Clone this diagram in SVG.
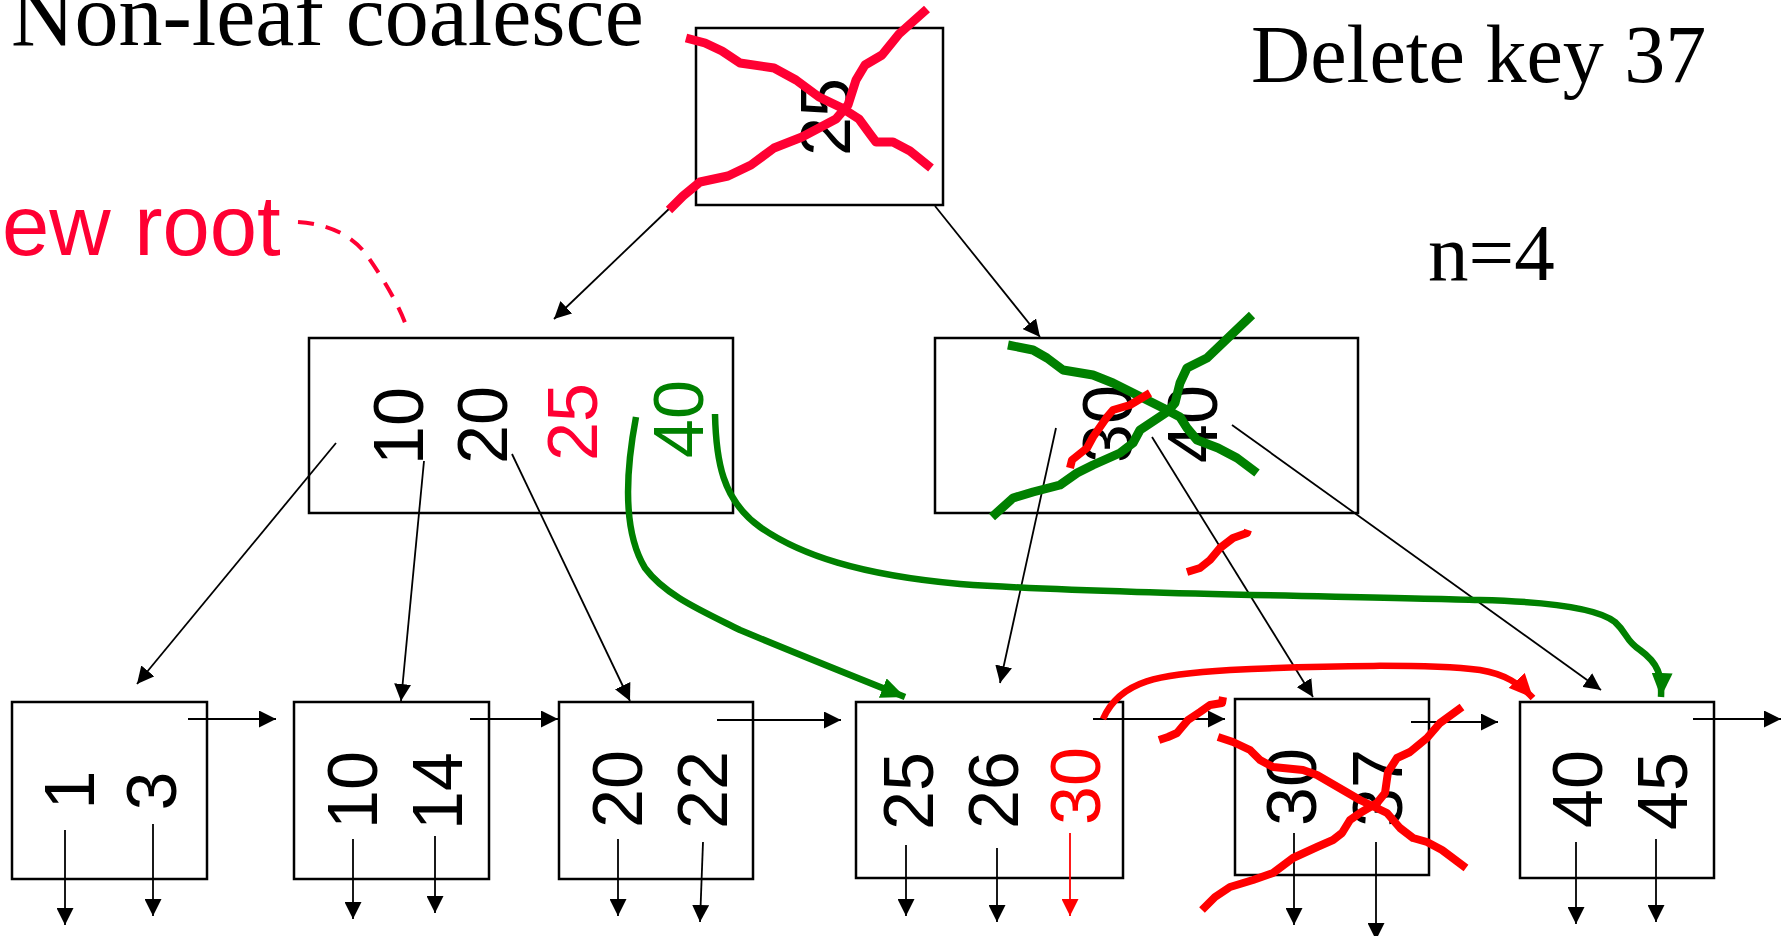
<svg xmlns="http://www.w3.org/2000/svg" width="1784" height="936" viewBox="0 0 1784 936">
  <style>
    .box { fill: #fff; stroke: #000; stroke-width: 2.5; }
    .k { font-family: "Liberation Sans", Arial, sans-serif; font-size: 70px; fill: #000; text-anchor: middle; }
    .k.crimson { fill: #ff0033; }
    .k.red { fill: #ff0000; }
    .k.green { fill: #008000; }
    .title { font-family: "Liberation Serif", "Times New Roman", serif; fill: #000; }
    .ptr { fill: none; stroke: #000; stroke-width: 1.8; marker-end: url(#ah); }
    .ptr.red { stroke: #ff0000; marker-end: url(#ahr); }
    .mark polyline { fill: none; stroke-linejoin: round; stroke-linecap: butt; }
    .red1 polyline { stroke: #ff0033; stroke-width: 9; }
    .red2, .red2 polyline { stroke: #ff0000; stroke-width: 8; }
    .grn { stroke: #008000; stroke-width: 9; }
    .gmove { fill: none; stroke: #008000; stroke-width: 6.5; marker-end: url(#ahg); }
    .rmove { fill: none; stroke: #ff0000; stroke-width: 6.5; marker-end: url(#ahr2); }
  </style>
  <defs>
    <marker id="ah" viewBox="0 0 17 17" markerWidth="17" markerHeight="17" refX="17" refY="8.5" orient="auto" markerUnits="userSpaceOnUse">
      <path d="M0,0 L17,8.5 L0,17 z" fill="#000"/>
    </marker>
    <marker id="ahr" viewBox="0 0 17 17" markerWidth="17" markerHeight="17" refX="17" refY="8.5" orient="auto" markerUnits="userSpaceOnUse">
      <path d="M0,0 L17,8.5 L0,17 z" fill="#ff0000"/>
    </marker>
    <marker id="ahr2" viewBox="0 0 24 22" markerWidth="24" markerHeight="22" refX="24" refY="11" orient="auto" markerUnits="userSpaceOnUse">
      <path d="M0,0 L24,11 L0,22 z" fill="#ff0000"/>
    </marker>
    <marker id="ahg" viewBox="0 0 24 21" markerWidth="24" markerHeight="21" refX="24" refY="10.5" orient="auto" markerUnits="userSpaceOnUse">
      <path d="M0,0 L24,10.5 L0,21 z" fill="#008000"/>
    </marker>
  </defs>

  <rect width="1784" height="936" fill="#fff"/>

  <!-- headings -->
  <text class="title" x="11" y="45" font-size="88">Non-leaf coalesce</text>
  <text class="title" x="1251" y="82" font-size="82">Delete key 37</text>
  <text class="title" x="1428" y="280" font-size="81">n=4</text>
  <text x="2" y="255" font-family="Liberation Sans, Arial, sans-serif" font-size="85" fill="#ff0033">ew root</text>

  <!-- old root -->
  <g id="root">
    <rect class="box" x="696" y="28" width="247" height="177"/>
    <text class="k" transform="translate(850,117) rotate(-90)">25</text>
  </g>

  <!-- inner nodes -->
  <g id="inner-left">
    <rect class="box" x="309" y="338" width="424" height="175"/>
    <text class="k" transform="translate(423,426) rotate(-90)">10</text>
    <text class="k" transform="translate(507,425) rotate(-90)">20</text>
    <text class="k crimson" transform="translate(597,422) rotate(-90)">25</text>
    <text class="k green" transform="translate(703,419) rotate(-90)">40</text>
  </g>
  <g id="inner-right">
    <rect class="box" x="935" y="338" width="423" height="175"/>
    <text class="k" transform="translate(1132,424) rotate(-90)">30</text>
    <text class="k" transform="translate(1217,424) rotate(-90)">40</text>
  </g>

  <!-- leaves -->
  <g id="leaf-1">
    <rect class="box" x="12" y="702" width="195" height="177"/>
    <text class="k" transform="translate(94,790) rotate(-90)">1</text>
    <text class="k" transform="translate(176,791) rotate(-90)">3</text>
  </g>
  <g id="leaf-10">
    <rect class="box" x="294" y="702" width="195" height="177"/>
    <text class="k" transform="translate(377,790) rotate(-90)">10</text>
    <text class="k" transform="translate(462,791) rotate(-90)">14</text>
  </g>
  <g id="leaf-20">
    <rect class="box" x="559" y="702" width="194" height="177"/>
    <text class="k" transform="translate(642,789) rotate(-90)">20</text>
    <text class="k" transform="translate(727,790) rotate(-90)">22</text>
  </g>
  <g id="leaf-25">
    <rect class="box" x="856" y="702" width="267" height="176"/>
    <text class="k" transform="translate(933,791) rotate(-90)">25</text>
    <text class="k" transform="translate(1018,790) rotate(-90)">26</text>
    <text class="k red" transform="translate(1100,786) rotate(-90)">30</text>
  </g>
  <g id="leaf-30">
    <rect class="box" x="1235" y="699" width="194" height="176"/>
    <text class="k" transform="translate(1316,787) rotate(-90)">30</text>
    <text class="k" transform="translate(1402,788) rotate(-90)">37</text>
  </g>
  <g id="leaf-40">
    <rect class="box" x="1520" y="702" width="194" height="176"/>
    <text class="k" transform="translate(1602,789) rotate(-90)">40</text>
    <text class="k" transform="translate(1687,791) rotate(-90)">45</text>
  </g>

  <!-- tree pointers -->
  <g id="connectors">
    <line class="ptr" x1="672" y1="206" x2="554" y2="319"/>
    <line class="ptr" x1="935" y1="206" x2="1040" y2="337"/>

    <line class="ptr" x1="336" y1="443" x2="137" y2="684"/>
    <line class="ptr" x1="424" y1="461" x2="401" y2="701"/>
    <line class="ptr" x1="512" y1="454" x2="630" y2="701"/>

    <line class="ptr" x1="1056" y1="428" x2="1000" y2="683"/>
    <line class="ptr" x1="1152" y1="437" x2="1313" y2="697"/>
    <line class="ptr" x1="1232" y1="425" x2="1601" y2="690"/>

    <!-- sibling links -->
    <line class="ptr" x1="188" y1="719" x2="276" y2="719"/>
    <line class="ptr" x1="470" y1="719" x2="558" y2="719"/>
    <line class="ptr" x1="717" y1="720" x2="841" y2="720"/>
    <line class="ptr" x1="1093" y1="719" x2="1225" y2="719"/>
    <line class="ptr" x1="1411" y1="722" x2="1498" y2="722"/>
    <line class="ptr" x1="1693" y1="719" x2="1781" y2="719"/>

    <!-- record pointers -->
    <line class="ptr" x1="65" y1="830" x2="65" y2="925"/>
    <line class="ptr" x1="153" y1="824" x2="153" y2="916"/>
    <line class="ptr" x1="353" y1="839" x2="353" y2="919"/>
    <line class="ptr" x1="435" y1="836" x2="435" y2="913"/>
    <line class="ptr" x1="618" y1="839" x2="618" y2="916"/>
    <line class="ptr" x1="703" y1="842" x2="700" y2="922"/>
    <line class="ptr" x1="906" y1="845" x2="906" y2="916"/>
    <line class="ptr" x1="997" y1="848" x2="997" y2="922"/>
    <line class="ptr red" x1="1070" y1="833" x2="1070" y2="916"/>
    <line class="ptr" x1="1294" y1="833" x2="1294" y2="925"/>
    <line class="ptr" x1="1376" y1="842" x2="1376" y2="940"/>
    <line class="ptr" x1="1576" y1="842" x2="1576" y2="924"/>
    <line class="ptr" x1="1656" y1="839" x2="1656" y2="922"/>

    <!-- new-root callout -->
    <path d="M298,222 C330,224 352,236 366,254 C380,274 398,302 407,328" fill="none" stroke="#ff0033" stroke-width="4" stroke-dasharray="16 12"/>

    <!-- redistribution moves -->
    <path class="gmove" d="M636,417 C626,470 622,530 645,568 C665,595 700,610 740,630 C800,655 850,675 905,697"/>
    <path class="gmove" d="M715,414 C716,460 722,500 760,527 C800,555 860,575 960,584 C1100,594 1350,596 1480,600 C1560,602 1600,610 1615,622 C1628,634 1625,640 1640,650 C1658,663 1662,675 1661,697"/>
    <path class="rmove" d="M1103,719 C1120,680 1160,674 1230,670 C1330,665 1430,664 1480,670 C1505,674 1520,684 1533,698"/>
  </g>

  <!-- strike-outs -->
  <g id="strike-root" class="mark red1">
    <polyline points="686,38 705,43 722,51 740,63 774,68 796,80 819,97 842,108 859,119 870,134 876,142 893,142 910,151 931,168"/>
    <polyline points="669,210 683,196 700,182 728,176 751,165 774,148 802,137 836,119 848,105 856,80 865,65 882,55 899,34 927,9"/>
  </g>
  <g id="strike-inner-right" class="mark">
    <polyline class="grn" points="1008,345 1033,350 1047,358 1063,370 1093,375 1113,383 1163,408 1180,417 1187,428 1197,440 1218,448 1237,458 1257,473"/>
    <polyline class="grn" points="992,517 1013,498 1033,492 1060,485 1077,473 1093,465 1120,453 1133,443 1140,430 1167,412 1175,403 1180,383 1187,368 1197,363 1207,358 1252,315"/>
    <polyline class="red2" points="1070,468 1072,460 1087,448 1093,437 1107,417 1113,410 1130,405 1150,393"/>
    <polyline class="red2" points="1187,572 1200,568 1210,560 1220,548 1233,538 1247,533 1248,530"/>
  </g>
  <g id="strike-leaf-30" class="mark red2">
    <polyline points="1159,740 1168,737 1177,733 1182,727 1188,720 1200,712 1210,705 1222,703 1223,697"/>
    <polyline points="1218,737 1233,742 1250,750 1260,760 1273,767 1303,770 1317,775 1360,800 1387,813 1400,828 1413,838 1427,842 1442,850 1466,868"/>
    <polyline points="1202,910 1215,897 1230,887 1253,880 1273,873 1293,858 1317,847 1333,840 1342,833 1350,820 1360,813 1377,803 1385,793 1388,772 1397,758 1410,752 1427,738 1440,723 1462,707"/>
  </g>
</svg>
